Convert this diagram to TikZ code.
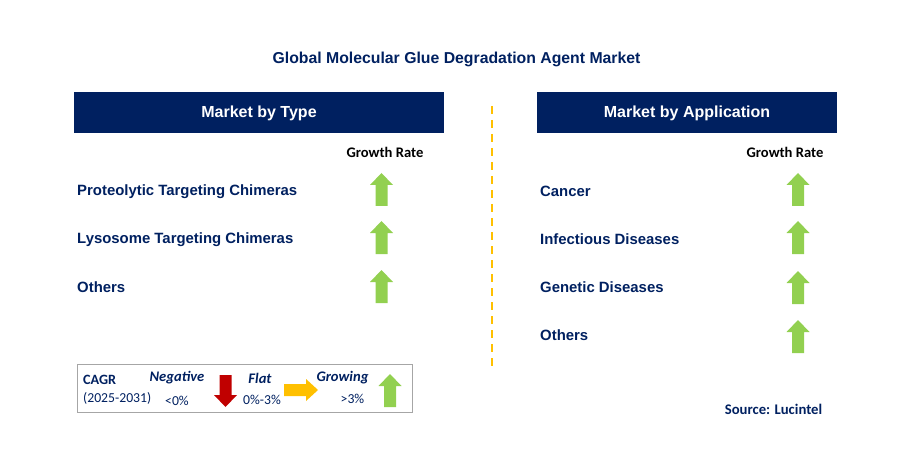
\documentclass[tikz,border=0pt]{standalone}
\usepackage{fontspec}
\setmainfont{Liberation Sans}
\newfontfamily\calib{Carlito}
\definecolor{navy}{HTML}{002060}
\definecolor{upgreen}{HTML}{92D050}
\definecolor{downred}{HTML}{C00000}
\definecolor{flatyellow}{HTML}{FFC000}
\tikzset{x=1pt, y=-1pt,
 bar/.style={fill=navy, draw=none},
 bartext/.style={text=white, font=\bfseries\fontsize{16}{19}\selectfont},
 item/.style={anchor=west, inner sep=0pt, text=navy, font=\bfseries\fontsize{14.9}{17}\selectfont},
 rate/.style={inner sep=0pt, font=\calib\bfseries\fontsize{14.6}{17}\selectfont},
 legend/.style={inner sep=0pt, text=navy, font=\calib\fontsize{13.7}{16}\selectfont},
 legendhead/.style={inner sep=0pt, text=navy, font=\calib\bfseries\itshape\fontsize{14.6}{17}\selectfont},
 }
% up arrow: centre x, top y
\newcommand{\growarrow}[2]{%
  \fill[upgreen] (#1-6,#2+33) -- (#1-6,#2+12) -- (#1-11.5,#2+12) -- (#1,#2)
    -- (#1+11.5,#2+12) -- (#1+6,#2+12) -- (#1+6,#2+33) -- cycle;}
\begin{document}
\begin{tikzpicture}
        \useasboundingbox (0,0) rectangle (902,473);
        \node (title) at (456.5,59) [text=navy, font=\bfseries\fontsize{15.8}{18}\selectfont] {Global Molecular Glue Degradation Agent Market};
        % left column
        \fill[bar] (74,92) rectangle (444,133);
        \node[bartext] (typehead) at (259,113.5) {Market by Type};
        \node[rate] (typerate) at (385,152) {Growth Rate};
        \node[item] (type1) at (77,191.5) {Proteolytic Targeting Chimeras};
        \node[item] (type2) at (77,239.5) {Lysosome Targeting Chimeras};
        \node[item] (type3) at (77,287.5) {Others};
        \foreach \t in {173,221,270} {\growarrow{381.5}{\t}}
        % divider
        \draw[flatyellow, line width=2pt, dash pattern=on 8pt off 6pt] (492,106) -- (492,366);
        % right column
        \fill[bar] (537,92) rectangle (837,133);
        \node[bartext] (apphead) at (687,113.5) {Market by Application};
        \node[rate] (apprate) at (785,152) {Growth Rate};
        \node[item] (app1) at (540,191.5) {Cancer};
        \node[item] (app2) at (540,239.5) {Infectious Diseases};
        \node[item] (app3) at (540,287.5) {Genetic Diseases};
        \node[item] (app4) at (540,335.5) {Others};
        \foreach \t in {173,221,271,320} {\growarrow{798}{\t}}
        % legend
        \draw[gray!70, line width=1pt] (77,364) rectangle (412,412);
        \node[legend, font=\calib\bfseries\fontsize{14.2}{16}\selectfont, anchor=west] (cagr) at (83,380) {CAGR};
        \node[legend, anchor=west] (years) at (83,398) {(2025-2031)};
        \node[legendhead] (neg) at (177,378) {Negative};
        \node[legend] (negval) at (177,401) {<0\%};
        \fill[downred] (219.5,375) -- (219.5,395) -- (214,395) -- (225.5,407) -- (237,395) -- (231.5,395) -- (231.5,375) -- cycle;
        \node[legendhead] (flt) at (260,378) {Flat};
        \node[legend] (fltval) at (262,400) {0\%-3\%};
        \fill[flatyellow] (284,384) -- (306,384) -- (306,379) -- (318,390) -- (306,401) -- (306,396) -- (284,396) -- cycle;
        \node[legendhead] (grw) at (342.5,378) {Growing};
        \node[legend] (grwval) at (352.5,399) {>3\%};
        \growarrow{390}{374}
        \node[inner sep=0pt, text=navy, font=\calib\bfseries\fontsize{14.7}{17}\selectfont] (src) at (773.5,409) {Source: Lucintel};
    \end{tikzpicture}
\end{document}
